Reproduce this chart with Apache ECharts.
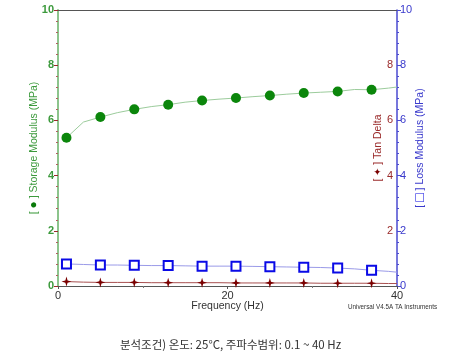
<!DOCTYPE html>
<html><head><meta charset="utf-8">
<script src="https://cdn.jsdelivr.net/npm/echarts@6/dist/echarts.min.js"></script>
<style>html,body{margin:0;padding:0;background:#fff}#c{width:461px;height:362px}</style>
</head><body><div id="c"></div>
<script>
// Frequency (Hz) of the recorded points
const freq = [1,3,5,7,9,11,13,15,17,19,21,23,25,27,29,31,33,35,37,39,40];
// Storage modulus (MPa)
const storage = [5.37,5.94,6.12,6.28,6.40,6.50,6.57,6.66,6.72,6.77,6.81,6.86,6.90,6.95,6.99,7.02,7.05,7.12,7.11,7.17,7.21];
// Loss modulus (MPa)
const loss = [0.80,0.78,0.76,0.76,0.75,0.74,0.74,0.73,0.72,0.72,0.72,0.71,0.70,0.69,0.68,0.67,0.65,0.62,0.57,0.53,0.50];
// Tan delta
const tanDelta = [0.16,0.14,0.13,0.13,0.13,0.12,0.12,0.12,0.12,0.12,0.11,0.11,0.11,0.11,0.11,0.10,0.10,0.10,0.10,0.09,0.09];
// frequencies that carry a marker
const markerFreq = [1,5,9,13,17,21,25,29,33,37];
const xTicks = [0,20,40];
const yTicks = [0,2,4,6,8,10];

const star = 'path://M0,-10 L2.2,-2.2 L10,0 L2.2,2.2 L0,10 L-2.2,2.2 L-10,0 L-2.2,-2.2 Z';
function pts(vals, sym, size){
  return freq.map((f,i)=>({value:[f,vals[i]], symbol: markerFreq.includes(f)? sym : 'none', symbolSize:size}));
}
const font = 'Liberation Sans, Arial, sans-serif';
const chart = echarts.init(document.getElementById('c'), null, {renderer:'canvas'});
chart.setOption({
  animation:false,
  backgroundColor:'#fff',
  grid:{left:58,right:64,top:10,bottom:76},
  xAxis:[{
    type:'value',min:xTicks[0],max:xTicks[xTicks.length-1],interval:20,position:'bottom',
    name:'Frequency (Hz)',nameLocation:'middle',nameGap:15,nameMoveOverlap:false,
    nameTextStyle:{color:'#333',fontSize:10.5,fontFamily:font},
    axisLine:{show:true,lineStyle:{color:'#555',width:1}},
    axisTick:{show:true,length:3,lineStyle:{color:'#555'}},
    minorTick:{show:true,splitNumber:2,length:2,lineStyle:{color:'#777'}},
    axisLabel:{color:'#333',fontSize:11,fontFamily:font,margin:4},
    splitLine:{show:false}
  },{
    type:'value',min:0,max:40,position:'top',
    axisLine:{show:true,onZero:false,lineStyle:{color:'#555',width:1}},
    axisTick:{show:false},axisLabel:{show:false},splitLine:{show:false}
  }],
  yAxis:[{
    type:'value',min:yTicks[0],max:yTicks[yTicks.length-1],interval:2,position:'left',
    name:'[ {g|●} ] Storage Modulus (MPa)',
    nameLocation:'middle',nameGap:18,nameRotate:90,nameMoveOverlap:false,
    nameTextStyle:{color:'#3c9a3c',fontSize:10.5,fontFamily:font,
      rich:{g:{color:'#0a7a0a',fontSize:12}}},
    axisLine:{show:true,lineStyle:{color:'#8cc48c',width:2}},
    axisTick:{show:true,length:3,lineStyle:{color:'#8cc48c'}},
    axisLabel:{color:'#3c9a3c',fontSize:11,fontFamily:font,margin:4,fontWeight:'bold'},
    splitLine:{show:false}
  },{
    type:'value',min:0,max:10,interval:2,position:'right',
    name:'[ {r|✦} ] Tan Delta',nameLocation:'middle',nameGap:-24,nameRotate:90,nameMoveOverlap:false,
    nameTextStyle:{color:'#9a2a2a',fontSize:10.5,fontFamily:font,
      rich:{r:{color:'#7a0000',fontSize:10}}},
    axisLine:{show:false},
    axisTick:{show:true,inside:true,length:4,lineStyle:{color:'#9a2a2a'}},
    minorTick:{show:true,splitNumber:5,length:2,lineStyle:{color:'#b06060'}},
    axisLabel:{inside:true,color:'#9a2a2a',fontSize:11,fontFamily:font,margin:4,
      showMinLabel:false,showMaxLabel:false},
    splitLine:{show:false}
  },{
    type:'value',min:0,max:10,interval:2,position:'right',
    name:'[ {b|□} ] Loss Modulus (MPa)',nameLocation:'middle',nameGap:16,nameRotate:90,nameMoveOverlap:false,
    nameTextStyle:{color:'#3a3acc',fontSize:10.5,fontFamily:font,
      rich:{b:{color:'#0000e0',fontSize:14,fontWeight:'bold'}}},
    axisLine:{show:true,lineStyle:{color:'#4a4ad0',width:1.5}},
    axisTick:{show:true,length:4,lineStyle:{color:'#4a4ad0'}},
    minorTick:{show:true,splitNumber:5,length:2,lineStyle:{color:'#4a4ad0'}},
    axisLabel:{color:'#3a3acc',fontSize:11,fontFamily:font,margin:3},
    splitLine:{show:false}
  }],
  series:[{
    type:'line',xAxisIndex:0,yAxisIndex:0,data:pts(storage,'circle',10),
    lineStyle:{color:'#9ccc9c',width:1},itemStyle:{color:'#0b860b',borderWidth:0},
    showAllSymbol:true,z:3
  },{
    type:'line',xAxisIndex:0,yAxisIndex:2,data:pts(loss,'rect',9),
    lineStyle:{color:'#9a9ae8',width:1},itemStyle:{color:'#fff',borderColor:'#0a0ae6',borderWidth:2},
    showAllSymbol:true,z:3
  },{
    type:'line',xAxisIndex:0,yAxisIndex:1,data:pts(tanDelta,star,10),
    lineStyle:{color:'#a85050',width:1},itemStyle:{color:'#7a0000',borderWidth:0},
    showAllSymbol:true,z:3
  }],
  graphic:[{
    type:'text',left:348,top:304,
    style:{text:'Universal V4.5A TA Instruments',fontSize:6.3,fill:'#333',fontFamily:font}
  },{
    type:'text',left:'center',top:339,
    style:{text:'분석조건) 온도: 25°C, 주파수범위: 0.1 ~ 40 Hz',fontSize:11.5,fill:'#333',
      fontFamily:'Noto Sans CJK KR, sans-serif'}
  }]
});
</script></body></html>
